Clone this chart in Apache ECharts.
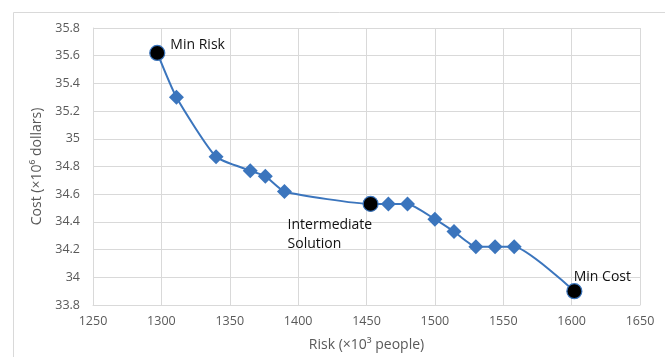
<!DOCTYPE html>
<html>
<head>
<meta charset="utf-8">
<script src="https://cdn.jsdelivr.net/npm/echarts@6/dist/echarts.min.js"></script>
<style>
  html, body { margin: 0; padding: 0; background: #fff; }
  #chart { width: 665px; height: 357px; }
</style>
</head>
<body>
<div id="chart"></div>
<script>
// Pareto front: risk (x10^3 people) vs cost (x10^6 dollars)
const risk = [1297, 1311, 1340, 1365, 1376, 1390, 1453, 1466, 1480, 1500, 1514, 1530, 1544, 1558, 1602]
const cost = [35.62, 35.30, 34.87, 34.77, 34.73, 34.62, 34.53, 34.53, 34.53, 34.42, 34.33, 34.22, 34.22, 34.22, 33.90]
// indices of the highlighted solutions
const specialIdx = [0, 6, 14]
const specialNames = ['Min Risk', 'Intermediate\nSolution', 'Min Cost']

const font = 'Open Sans'
const blue = '#3B75BD'

const labelCfg = [
  { position: 'right', offset: [0, -8] },
  { position: 'bottom', offset: [-83, -1], align: 'left' },
  { position: 'top', offset: [28, 8] }
]

const points = risk.map((r, i) => {
  const k = specialIdx.indexOf(i)
  if (k < 0) return [r, cost[i]]
  return {
    value: [r, cost[i]],
    symbol: 'circle',
    symbolSize: 15,
    itemStyle: { color: '#000', borderColor: blue, borderWidth: 1.2 },
    label: Object.assign({
      show: true,
      formatter: specialNames[k],
      color: '#111',
      fontSize: 14,
      fontFamily: font,
      lineHeight: 19
    }, labelCfg[k])
  }
})

const chart = echarts.init(document.getElementById('chart'))
chart.setOption({
  animation: false,
  backgroundColor: '#fff',
  graphic: [{
    type: 'rect',
    shape: { x: 13.5, y: 12.5, width: 700, height: 400 },
    style: { fill: 'none', stroke: '#d9d9d9', lineWidth: 1 },
    silent: true
  }],
  grid: { left: 93, right: 25, top: 28, bottom: 48 },
  xAxis: {
    type: 'value',
    min: 1250,
    max: 1650,
    interval: 50,
    name: 'Risk (×10³ people)',
    nameLocation: 'middle',
    nameGap: 33,
    nameTextStyle: { color: '#595959', fontSize: 14, fontFamily: font },
    axisLine: { show: true, lineStyle: { color: '#d9d9d9' } },
    axisTick: { show: false },
    axisLabel: { color: '#595959', fontSize: 12.5, fontFamily: font, margin: 10, formatter: v => String(v) },
    splitLine: { show: true, lineStyle: { color: '#d9d9d9', width: 1 } }
  },
  yAxis: {
    type: 'value',
    min: 33.8,
    max: 35.8,
    interval: 0.2,
    name: 'Cost (×10⁶ dollars)',
    nameLocation: 'middle',
    nameGap: 38,
    nameTextStyle: { color: '#595959', fontSize: 14, fontFamily: font },
    axisLine: { show: true, lineStyle: { color: '#d9d9d9' } },
    axisTick: { show: false },
    axisLabel: {
      color: '#595959', fontSize: 12.5, fontFamily: font, margin: 13,
      formatter: v => String(parseFloat(v.toFixed(1)))
    },
    splitLine: { show: true, lineStyle: { color: '#d9d9d9', width: 1 } }
  },
  series: [{
    type: 'line',
    data: points,
    smooth: 0.18,
    symbol: 'diamond',
    symbolSize: 15,
    lineStyle: { color: blue, width: 2 },
    itemStyle: { color: blue },
    z: 3
  }]
})
</script>
</body>
</html>
